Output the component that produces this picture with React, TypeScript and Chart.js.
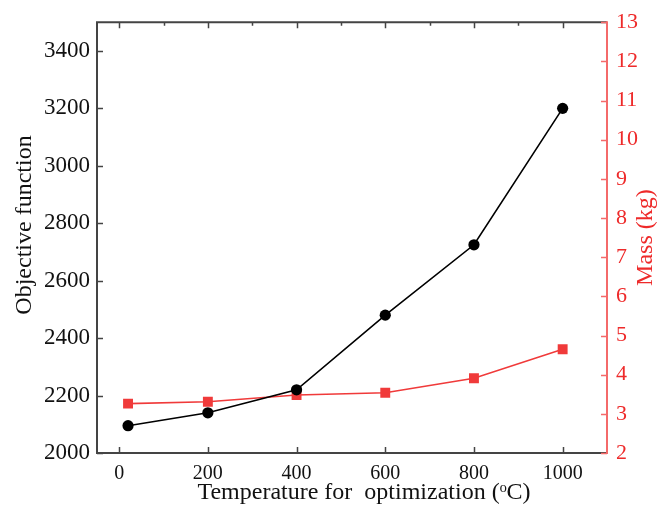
import React, { useEffect, useRef } from "react";
import { Chart, registerables } from "chart.js";

Chart.register(...registerables);

const temperatures = [20, 200, 400, 600, 800, 1000];
const objectiveValues = [2095, 2140, 2220, 2480, 2725, 3200];
const massValues = [3.26, 3.31, 3.48, 3.54, 3.91, 4.65];

const xTicks = [0, 200, 400, 600, 800, 1000];
const xMinorTicks = [100, 300, 500, 700, 900];
const yTicks = [2000, 2200, 2400, 2600, 2800, 3000, 3200, 3400];
const y2Ticks = [2, 3, 4, 5, 6, 7, 8, 9, 10, 11, 12, 13];

const xTitle = "Temperature for  optimization (\u1D52C)";
const yTitle = "Objective function";
const y2Title = "Mass (kg)";

const SERIF = "'Liberation Serif', 'Times New Roman', serif";
const RED = "#f03a3a";
const RED_AXIS = "#f46a6a";
const RED_TEXT = "#ee2a2a";
const AXIS = "#444444";
const TEXT = "#111111";

const framePlugin = {
  id: "frame",
  afterDraw(chart: any) {
    const ctx = chart.ctx;
    const { left, right, top, bottom } = chart.chartArea;
    const x = chart.scales.x;
    const y = chart.scales.y;
    const y2 = chart.scales.y2;
    ctx.save();
    ctx.lineWidth = 2;
    ctx.strokeStyle = AXIS;
    ctx.beginPath();
    ctx.moveTo(left, top);
    ctx.lineTo(right, top);
    ctx.moveTo(left, top - 1);
    ctx.lineTo(left, bottom);
    ctx.lineTo(right, bottom);
    ctx.stroke();
    ctx.lineWidth = 1.5;
    ctx.beginPath();
    for (const v of xTicks) {
      const px = Math.round(x.getPixelForValue(v)) + 0.5;
      ctx.moveTo(px, bottom);
      ctx.lineTo(px, bottom - 6);
      ctx.moveTo(px, top);
      ctx.lineTo(px, top + 6);
    }
    for (const v of xMinorTicks) {
      const px = Math.round(x.getPixelForValue(v)) + 0.5;
      ctx.moveTo(px, top);
      ctx.lineTo(px, top + 3.5);
    }
    for (const v of yTicks) {
      const py = Math.round(y.getPixelForValue(v)) + 0.5;
      ctx.moveTo(left, py);
      ctx.lineTo(left + 6, py);
    }
    ctx.stroke();
    ctx.strokeStyle = RED_AXIS;
    ctx.lineWidth = 2;
    ctx.beginPath();
    ctx.moveTo(right, top - 1);
    ctx.lineTo(right, bottom + 1);
    ctx.stroke();
    ctx.lineWidth = 1.5;
    ctx.beginPath();
    for (const v of y2Ticks) {
      const py = Math.round(y2.getPixelForValue(v)) + 0.5;
      ctx.moveTo(right, py);
      ctx.lineTo(right - 6, py);
    }
    ctx.stroke();

    ctx.font = `24px ${SERIF}`;
    ctx.textAlign = "center";
    ctx.textBaseline = "middle";
    ctx.fillStyle = TEXT;
    ctx.fillText(xTitle, 364, 493);
    ctx.save();
    ctx.translate(25, 225);
    ctx.rotate(-Math.PI / 2);
    ctx.fillText(yTitle, 0, 0);
    ctx.restore();
    ctx.fillStyle = RED_TEXT;
    ctx.translate(646, (top + bottom) / 2);
    ctx.rotate(-Math.PI / 2);
    ctx.fillText(y2Title, 0, 0);
    ctx.restore();
  },
};

export default function App() {
  const canvasRef = useRef<HTMLCanvasElement | null>(null);

  useEffect(() => {
    document.body.style.margin = "0";
    const canvas = canvasRef.current;
    if (!canvas) return;
    const plain = (v: any) => String(v);
    const chart = new Chart(canvas, {
      type: "line",
      data: {
        datasets: [
          {
            label: "Objective function",
            data: temperatures.map((t, i) => ({ x: t, y: objectiveValues[i] })),
            borderColor: "#000000",
            backgroundColor: "#000000",
            borderWidth: 1.6,
            pointStyle: "circle",
            pointRadius: 5.6,
            pointBorderWidth: 0,
            yAxisID: "y",
            tension: 0,
          },
          {
            label: "Mass",
            data: temperatures.map((t, i) => ({ x: t, y: massValues[i] })),
            borderColor: RED,
            backgroundColor: RED,
            borderWidth: 1.6,
            pointStyle: "rect",
            pointRadius: 7,
            pointBorderWidth: 0,
            yAxisID: "y2",
            tension: 0,
          },
        ],
      },
      options: {
        animation: false,
        responsive: false,
        maintainAspectRatio: false,
        layout: { padding: { top: 17, left: 0, right: 0, bottom: 0 } },
        plugins: {
          legend: { display: false },
          tooltip: { enabled: false },
        },
        scales: {
          x: {
            type: "linear",
            position: "bottom",
            min: -50,
            max: 1100,
            afterBuildTicks: (s: any) => {
              s.ticks = xTicks.map((v) => ({ value: v }));
            },
            afterFit: (s: any) => {
              s.height = 55;
            },
            grid: { display: false, drawTicks: false },
            border: { display: false },
            ticks: {
              padding: 9,
              color: TEXT,
              font: { family: SERIF, size: 20 },
              maxRotation: 0,
              callback: plain,
            },
          },
          y: {
            type: "linear",
            position: "left",
            min: 2000,
            max: 3500,
            afterBuildTicks: (s: any) => {
              s.ticks = yTicks.map((v) => ({ value: v }));
            },
            afterFit: (s: any) => {
              s.width = 97;
            },
            grid: { display: false, drawTicks: false },
            border: { display: false },
            ticks: {
              padding: 7,
              color: TEXT,
              font: { family: SERIF, size: 23 },
              callback: plain,
            },
          },
          y2: {
            type: "linear",
            position: "right",
            min: 2,
            max: 13,
            afterBuildTicks: (s: any) => {
              s.ticks = y2Ticks.map((v) => ({ value: v }));
            },
            afterFit: (s: any) => {
              s.width = 63;
            },
            grid: { display: false, drawTicks: false },
            border: { display: false },
            ticks: {
              padding: 9,
              color: RED_TEXT,
              font: { family: SERIF, size: 22 },
              callback: plain,
            },
          },
        },
      },
      plugins: [framePlugin],
    });
    return () => chart.destroy();
  }, []);

  return (
    <div style={{ width: 670, height: 508 }}>
      <canvas ref={canvasRef} width={670} height={508} style={{ display: "block" }} />
    </div>
  );
}
